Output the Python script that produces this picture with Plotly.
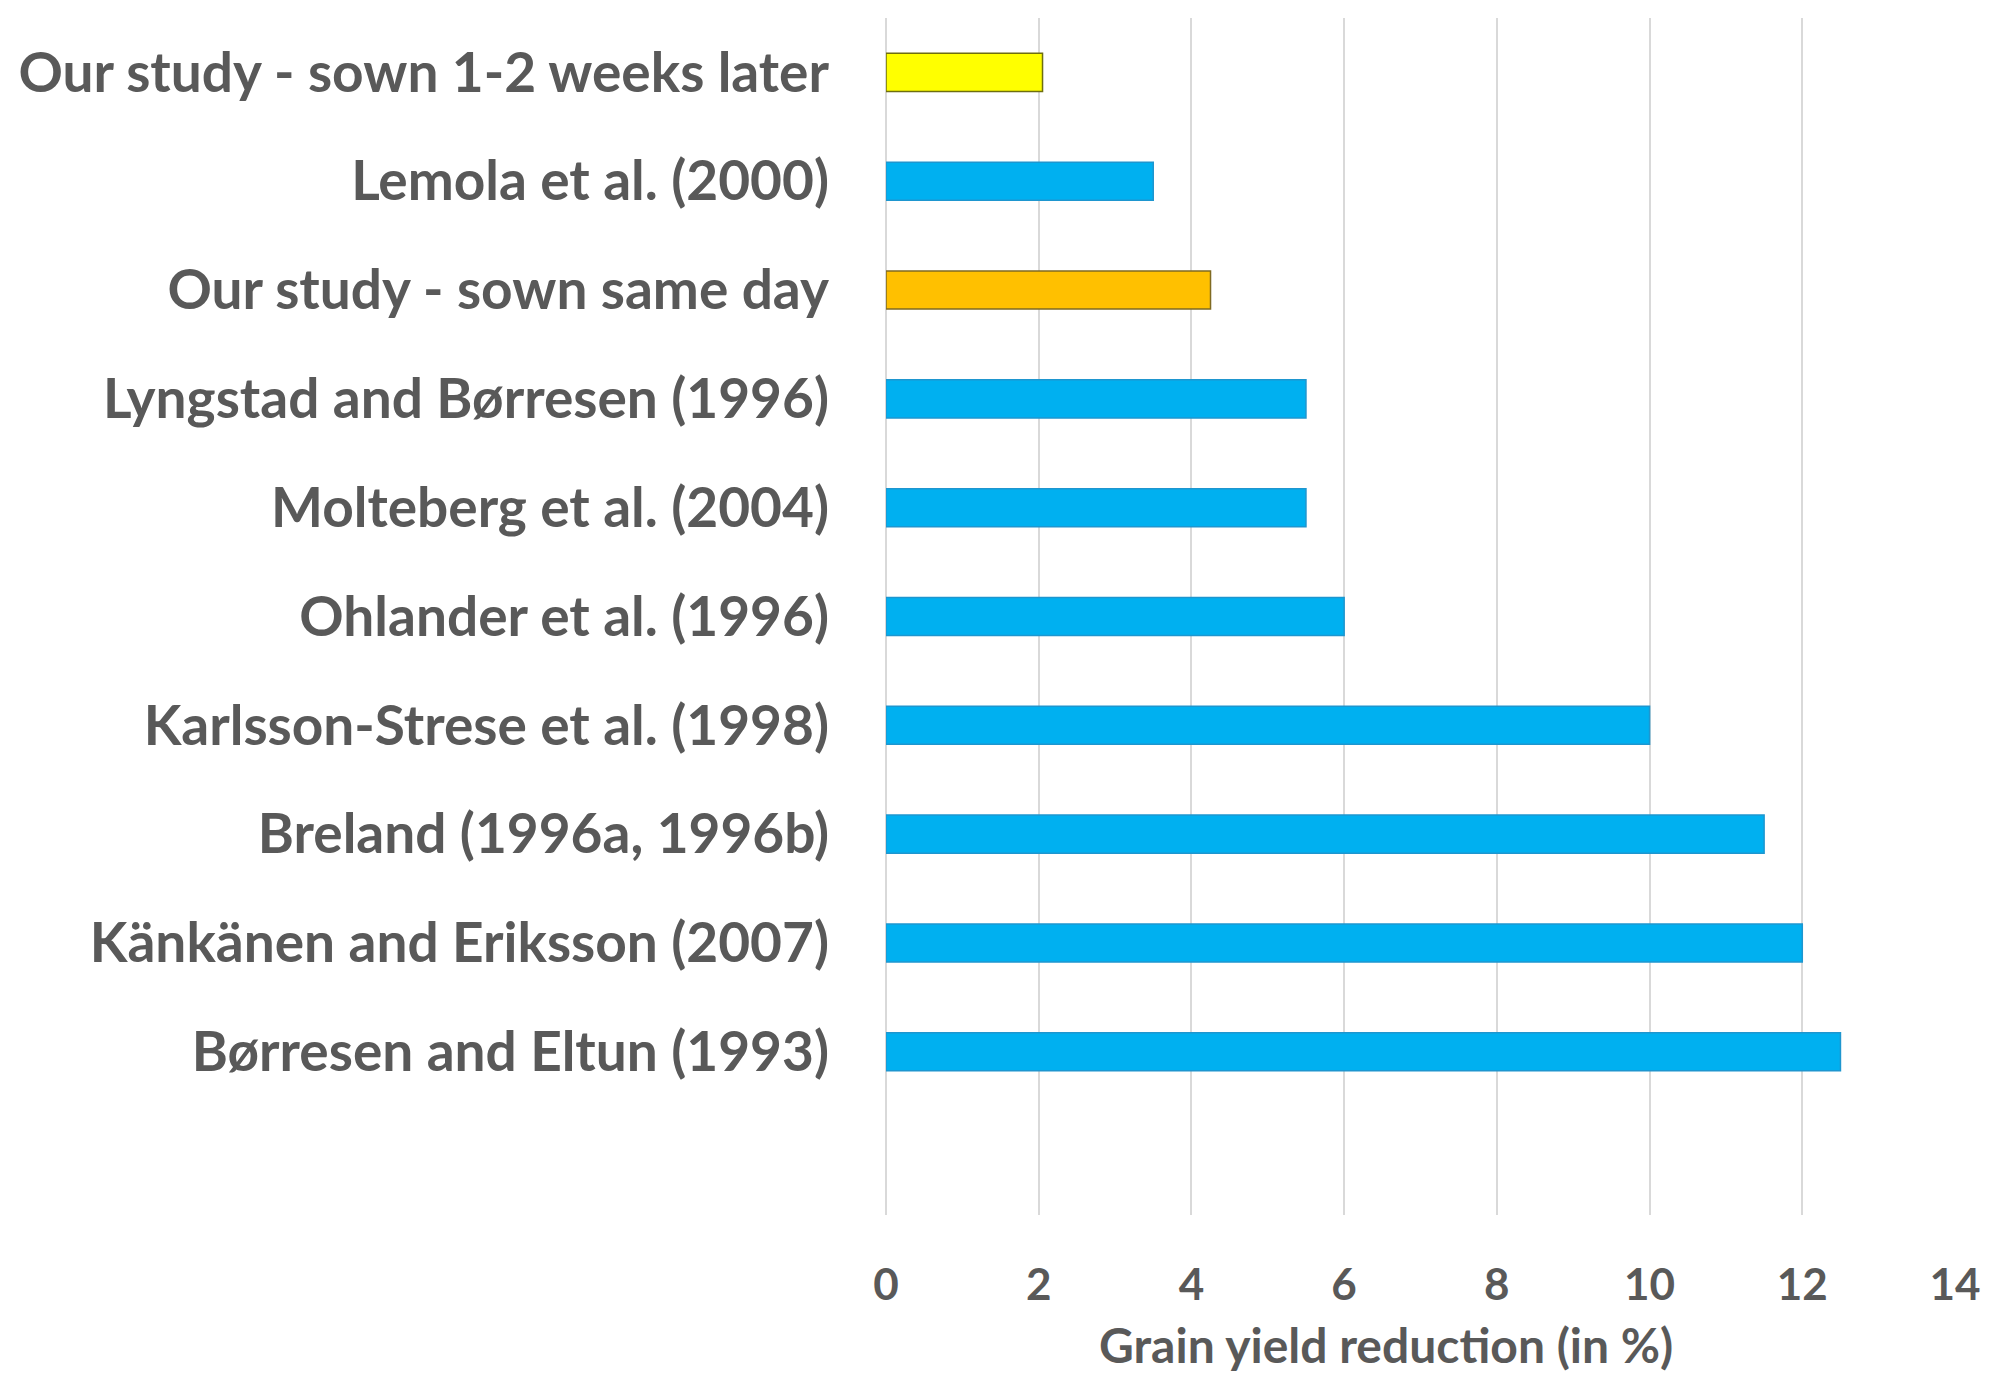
import plotly.graph_objects as go

categories = [
    "Our study - sown 1-2 weeks later",
    "Lemola et al. (2000)",
    "Our study - sown same day",
    "Lyngstad and Børresen (1996)",
    "Molteberg et al. (2004)",
    "Ohlander et al. (1996)",
    "Karlsson-Strese et al. (1998)",
    "Breland (1996a, 1996b)",
    "Känkänen and Eriksson (2007)",
    "Børresen and Eltun (1993)",
]
values = [2.05, 3.5, 4.25, 5.5, 5.5, 6.0, 10.0, 11.5, 12.0, 12.5]
fill_colors = ["#FFFF00", "#00B0F0", "#FFC000"] + ["#00B0F0"] * 7
line_colors = ["#6E6E10", "#1E96CF", "#7F6A22"] + ["#1E96CF"] * 7
x_ticks = [0, 2, 4, 6, 8, 10, 12, 14]
x_title = "Grain yield reduction (in %)"

TEXT = "#595959"

fig = go.Figure(
    go.Bar(
        x=values,
        y=categories,
        orientation="h",
        width=0.35,
        marker=dict(color=fill_colors, line=dict(color=line_colors, width=1.5)),
    )
)

fig.update_layout(
    width=1994,
    height=1382,
    paper_bgcolor="white",
    plot_bgcolor="white",
    showlegend=False,
    margin=dict(l=878, r=47, t=10, b=175),
    font=dict(family="Lato", color=TEXT),
    annotations=[
        dict(
            text=x_title,
            xref="paper", yref="paper",
            x=0.468, y=-0.108,
            xanchor="center", yanchor="middle",
            showarrow=False,
            font=dict(family="Lato", size=48, color=TEXT, weight="bold"),
        )
    ],
)

fig.update_xaxes(
    range=[0, 14],
    tickvals=x_ticks,
    showgrid=True,
    gridcolor="#D9D9D9",
    gridwidth=1.5,
    zeroline=True,
    zerolinecolor="#D9D9D9",
    zerolinewidth=1.5,
    showline=False,
    ticks="",
    tickfont=dict(family="Lato", size=44, color=TEXT, weight="bold"),
    ticklabelstandoff=40,
)

fig.update_yaxes(
    type="category",
    categoryorder="array",
    categoryarray=categories[::-1],
    range=[-1.5, 9.5],
    showgrid=False,
    zeroline=False,
    showline=False,
    ticks="",
    tickfont=dict(family="Lato", size=55, color=TEXT, weight="bold"),
    ticklabelstandoff=56,
)

fig.write_html("out.html")
